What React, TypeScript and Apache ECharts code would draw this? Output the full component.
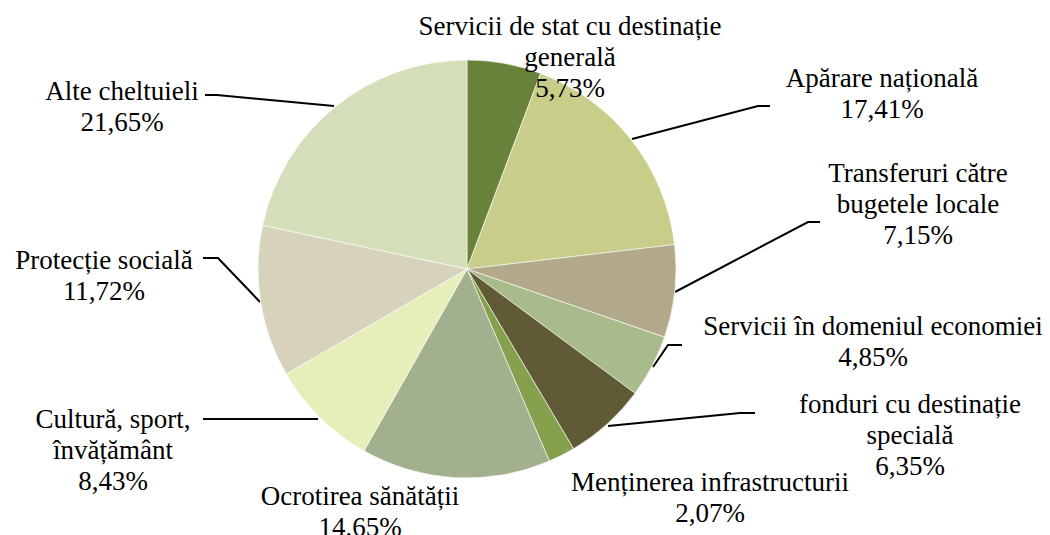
import React, { useEffect, useRef } from "react";
import * as echarts from "echarts";

const categories = [
  "Servicii de stat cu destinație\ngenerală",
  "Apărare națională",
  "Transferuri către\nbugetele locale",
  "Servicii în domeniul economiei",
  "fonduri cu destinație\nspecială",
  "Menținerea infrastructurii",
  "Ocrotirea sănătății",
  "Cultură, sport,\nînvățământ",
  "Protecție socială",
  "Alte cheltuieli",
];
const values = [5.73, 17.41, 7.15, 4.85, 6.35, 2.07, 14.65, 8.43, 11.72, 21.65];
const colors = [
  "#68823a",
  "#c8cd8a",
  "#b1a98a",
  "#a9bb8b",
  "#615a37",
  "#86a14e",
  "#a3b08e",
  "#e6eeba",
  "#d6d2bc",
  "#d4dfba",
];

// label anchor positions (centre of text block) and leader line points
const labelPos: [number, number][] = [
  [570, 57],
  [882, 93],
  [918, 204],
  [873, 341],
  [910, 435],
  [710, 497],
  [360, 511],
  [113, 450],
  [104, 275],
  [122, 106],
];
const leaderLines: ([number, number][] | null)[] = [
  null,
  [[632, 139], [758, 106], [770, 106]],
  [[675, 292], [808, 222], [820, 222]],
  [[653, 367], [668, 345], [682, 345]],
  [[608, 426], [740, 413], [755, 413]],
  null,
  null,
  [[318, 419], [260, 419], [203, 419]],
  [[260, 302], [218, 258], [203, 258]],
  [[334, 106], [217, 95], [205, 95]],
];

const fmt = (v: number) => v.toFixed(2).replace(".", ",") + "%";

export default function App() {
  const ref = useRef<HTMLDivElement>(null);
  useEffect(() => {
    document.body.style.margin = "0";
    const chart = echarts.init(ref.current!, null, { renderer: "svg" });
    chart.setOption({
      animation: false,
      backgroundColor: "#ffffff",
      series: [
        {
          type: "pie",
          center: [467, 269],
          radius: 209,
          startAngle: 90,
          clockwise: true,
          avoidLabelOverlap: false,
          itemStyle: { borderColor: "#ffffff", borderWidth: 0.6 },
          label: {
            show: true,
            position: "outside",
            fontFamily: "Liberation Serif",
            fontSize: 27,
            lineHeight: 31,
            color: "#000000",
            align: "center",
            formatter: (p: any) => p.name + "\n" + fmt(p.value),
          },
          labelLine: {
            show: true,
            lineStyle: { color: "#000000", width: 2 },
          },
          labelLayout: (p: any) => {
            const i = p.dataIndex;
            const res: any = {
              x: labelPos[i][0],
              y: labelPos[i][1],
              align: "center",
              verticalAlign: "middle",
            };
            if (leaderLines[i]) res.labelLinePoints = leaderLines[i];
            return res;
          },
          data: categories.map((c, i) => ({
            name: c,
            value: values[i],
            itemStyle: { color: colors[i] },
            labelLine: { show: leaderLines[i] !== null },
          })),
        },
      ],
    });
    return () => chart.dispose();
  }, []);
  return <div ref={ref} style={{ width: 1050, height: 535 }} />;
}
